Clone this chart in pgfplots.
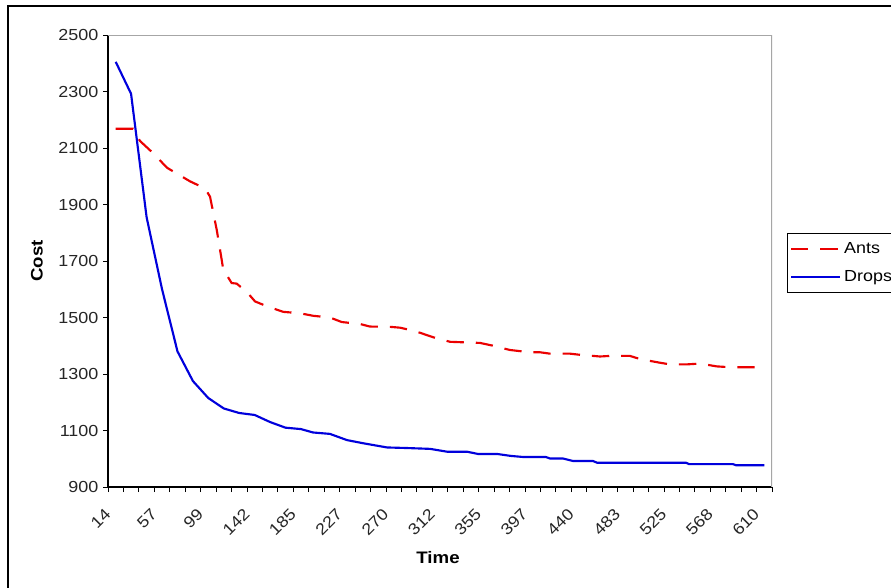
\documentclass[border=0pt]{standalone}
\usepackage{pgfplots}
\pgfplotsset{compat=1.18}
\usepackage{fontspec}
\setmainfont{Liberation Sans}[FakeStretch=1.12]
\definecolor{antsred}{RGB}{235,0,0}
\definecolor{dropsblue}{RGB}{0,0,220}
\begin{document}
\begin{tikzpicture}
\useasboundingbox (0,0) rectangle (668.25pt,440.25pt);
\fill[white] (0,0) rectangle (668.25pt,440.25pt);
\draw[line width=1.1pt] (6pt,-2pt) -- (6pt,435.75pt) -- (680pt,435.75pt);
\begin{axis}[
  at={(81pt,75pt)}, anchor=south west,
  scale only axis, width=498pt, height=339pt,
  xmin=6.9, xmax=617.5, ymin=900, ymax=2500,
  axis x line*=bottom, axis y line*=left,
  axis line style={line width=0.9pt, black, -},
  ytick={900,1100,...,2500},
  xtick={14,56.6,99.2,141.8,184.4,227,269.6,312.2,354.8,397.4,440,482.6,525.2,567.8,610.4},
  xticklabels={14,57,99,142,185,227,270,312,355,397,440,483,525,568,610},
  minor xtick={6.9,21.1,...,618},
  major x tick style={draw=none},
  xticklabel style={rotate=45, anchor=east, xshift=-11pt, yshift=-6pt},
  tick align=outside, major tick length=3.75pt, minor tick length=3.75pt,
  tick style={black, line width=0.6pt},
  /pgf/number format/assume math mode=true,
  /pgf/number format/1000 sep={},
  scaled y ticks=false,
  ticklabel style={font=\fontsize{12}{14}\selectfont, text=black!85},
  xlabel={Time}, ylabel={Cost},
  xlabel style={font=\bfseries\fontsize{12.5}{14}\selectfont, at={(axis description cs:0.497,-0.157)}, anchor=center},
  ylabel style={font=\bfseries\fontsize{12.5}{14}\selectfont, at={(axis description cs:-0.107,0.5)}, anchor=center, rotate=0},
  legend style={at={(axis description cs:1.0226,0.5619)}, anchor=north west,
    draw=black, line width=0.6pt, font=\fontsize{12}{14}\selectfont,
    inner xsep=2pt, inner ysep=5pt, row sep=7pt},
  legend cell align=left,
  legend image code/.code={\draw[#1] (0pt,0pt) -- (37pt,0pt);},
]
\draw[gray!70, line width=1pt] (rel axis cs:0,1) -- (rel axis cs:1,1) -- (rel axis cs:1,0);
\addplot[antsred, line width=1.6pt, dash pattern=on 13pt off 9pt] table {
14.0 2168
29.9 2168
36.3 2125
48.3 2082
61.2 2030
82.3 1982
96.1 1957
100.7 1928
106.9 1810
112.9 1670
120.6 1622
125.2 1620
134.4 1591
142.1 1557
152.8 1540
168.1 1520
183.4 1515
195.7 1506
211.0 1500
221.8 1484
238.6 1477
247.8 1468
266.2 1467
275.4 1464
284.6 1456
293.8 1446
306.0 1430
321.4 1414
349.0 1410
361.2 1400
376.5 1385
394.9 1377
404.1 1377
413.3 1372
431.7 1372
440.9 1368
459.3 1362
468.5 1364
486.9 1364
496.1 1353
512.9 1341
523.7 1334
539.0 1334
551.3 1337
566.6 1327
578.8 1324
610.4 1324
};
\addlegendentry{Ants}
\addplot[dropsblue, line width=1.6pt] table {
14.0 2405
28.1 2292
42.4 1855
56.6 1600
70.8 1380
85.0 1275
99.1 1215
113.4 1178
127.5 1162
141.8 1155
155.9 1130
170.1 1110
184.4 1105
195.4 1093
211.0 1088
226.7 1066
241.4 1055
263.5 1040
281.8 1038
303.0 1035
318.6 1025
337.0 1025
347.1 1017
364.6 1017
377.5 1010
389.4 1006
409.7 1006
413.3 1001
425.3 1001
434.5 992
452.9 992
456.6 986
538.4 986
541.2 981
581.6 981
584.4 977
610.4 977
};
\addlegendentry{Drops}
\end{axis}
\end{tikzpicture}
\end{document}
